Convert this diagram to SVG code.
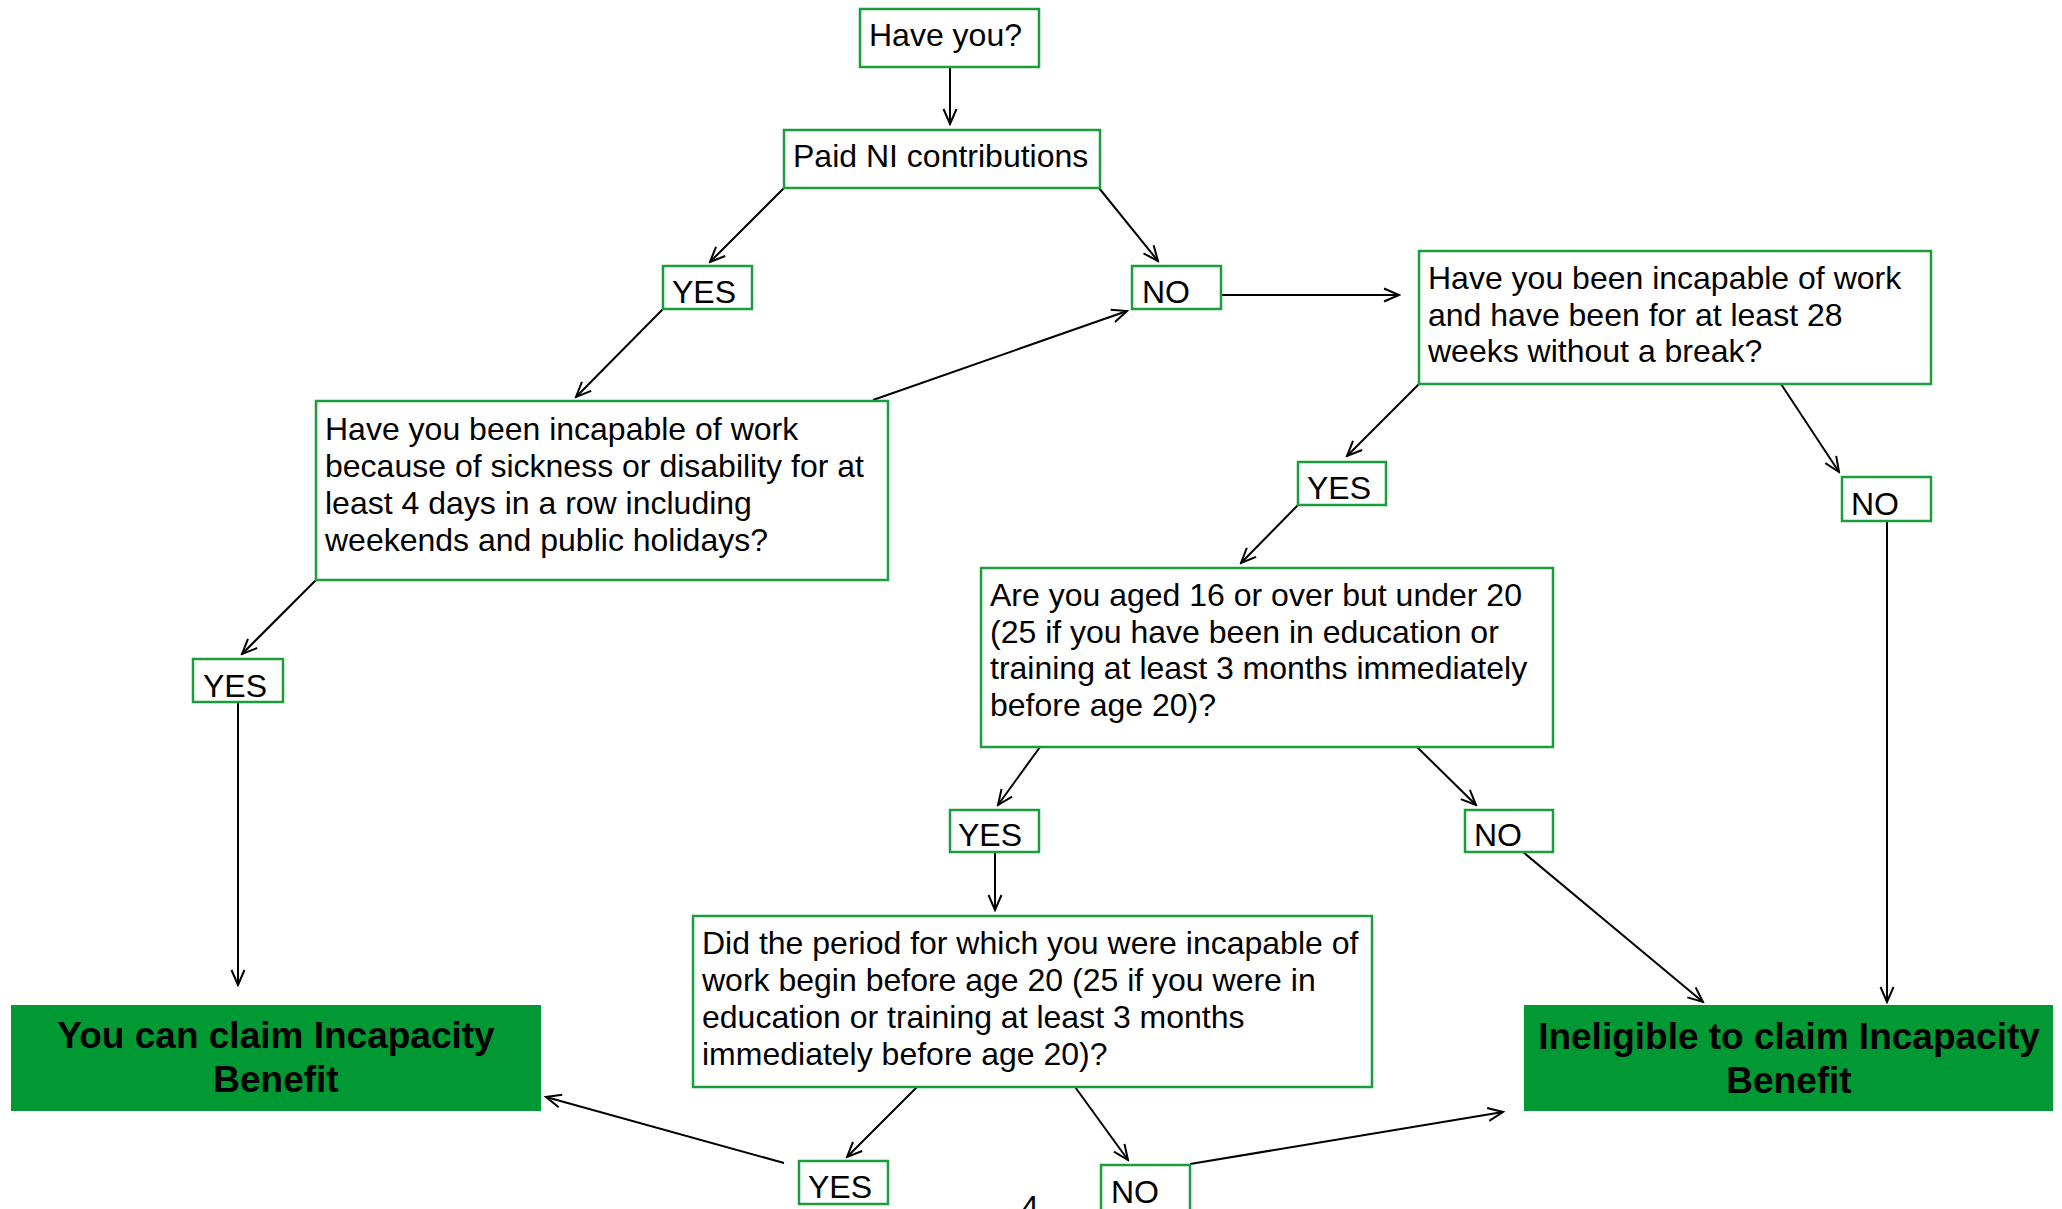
<svg xmlns="http://www.w3.org/2000/svg" width="2062" height="1209" viewBox="0 0 2062 1209">
<defs>
<marker id="arr" markerUnits="userSpaceOnUse" markerWidth="20" markerHeight="20" viewBox="0 0 20 20" refX="18" refY="10" orient="auto">
<path d="M3,3.5 L18,10 L3,16.5" fill="none" stroke="#000" stroke-width="2"/>
</marker>
</defs>
<style>
.box{fill:#fff;stroke:#1a9e3c;stroke-width:2.5}
.end{fill:#009933;stroke:none}
.t{font-family:"Liberation Sans",Arial,sans-serif;font-size:32px;fill:#000}
.b{font-family:"Liberation Sans",Arial,sans-serif;font-size:37px;font-weight:bold;fill:#000;text-anchor:middle}
.c{fill:none;stroke:#000;stroke-width:2;marker-end:url(#arr)}
.l{fill:none;stroke:#000;stroke-width:2}
</style>
<rect width="2062" height="1209" fill="#fff"/>
<g id="connectors">
<line class="c" x1="950" y1="67" x2="950" y2="124"/>
<line class="c" x1="784" y1="188" x2="710" y2="262"/>
<line class="c" x1="1099" y1="188" x2="1158" y2="261"/>
<line class="c" x1="1221" y1="295" x2="1399" y2="295"/>
<line class="c" x1="663" y1="309" x2="576" y2="397"/>
<line class="c" x1="873" y1="400" x2="1127" y2="311"/>
<line class="c" x1="316" y1="580" x2="242" y2="654"/>
<line class="c" x1="238" y1="702" x2="238" y2="985"/>
<line class="c" x1="1419" y1="384" x2="1347" y2="456"/>
<line class="c" x1="1781" y1="384" x2="1839" y2="472"/>
<line class="c" x1="1887" y1="521" x2="1887" y2="1002"/>
<line class="c" x1="1298" y1="505" x2="1241" y2="563"/>
<line class="c" x1="1040" y1="747" x2="998" y2="805"/>
<line class="c" x1="1417" y1="747" x2="1476" y2="805"/>
<line class="c" x1="995" y1="852" x2="995" y2="910"/>
<line class="c" x1="1523" y1="852" x2="1703" y2="1002"/>
<line class="c" x1="919" y1="1085" x2="847" y2="1157"/>
<line class="c" x1="1070" y1="1080" x2="1128" y2="1160"/>
<line class="c" x1="784" y1="1163" x2="546" y2="1097"/>
<line class="c" x1="1190" y1="1164" x2="1503" y2="1112"/>
</g>
<g id="n-have-you">
<rect class="box" x="860" y="9" width="179" height="58"/>
<text class="t" x="869" y="46">Have you?</text>
</g>
<g id="n-paid-ni">
<rect class="box" x="784" y="130" width="316" height="58"/>
<text class="t" x="793" y="167">Paid NI contributions</text>
</g>
<g id="n-yes-1">
<rect class="box" x="663" y="266" width="89" height="43"/>
<text class="t" x="672" y="303">YES</text>
</g>
<g id="n-no-1">
<rect class="box" x="1132" y="266" width="89" height="43"/>
<text class="t" x="1142" y="303">NO</text>
</g>
<g id="n-q-4days">
<rect class="box" x="316" y="401" width="572" height="179"/>
<text class="t" x="325" y="440">Have you been incapable of work</text>
<text class="t" x="325" y="477">because of sickness or disability for at</text>
<text class="t" x="325" y="514">least 4 days in a row including</text>
<text class="t" x="325" y="551">weekends and public holidays?</text>
</g>
<g id="n-q-28weeks">
<rect class="box" x="1419" y="251" width="512" height="133"/>
<text class="t" x="1428" y="289">Have you been incapable of work</text>
<text class="t" x="1428" y="326">and have been for at least 28</text>
<text class="t" x="1428" y="362">weeks without a break?</text>
</g>
<g id="n-yes-2">
<rect class="box" x="1298" y="462" width="88" height="43"/>
<text class="t" x="1307" y="499">YES</text>
</g>
<g id="n-no-2">
<rect class="box" x="1842" y="477" width="89" height="44"/>
<text class="t" x="1851" y="515">NO</text>
</g>
<g id="n-yes-3">
<rect class="box" x="193" y="659" width="90" height="43"/>
<text class="t" x="203" y="697">YES</text>
</g>
<g id="n-q-age">
<rect class="box" x="981" y="568" width="572" height="179"/>
<text class="t" x="990" y="606">Are you aged 16 or over but under 20</text>
<text class="t" x="990" y="643">(25 if you have been in education or</text>
<text class="t" x="990" y="679">training at least 3 months immediately</text>
<text class="t" x="990" y="716">before age 20)?</text>
</g>
<g id="n-yes-4">
<rect class="box" x="950" y="810" width="89" height="42"/>
<text class="t" x="958" y="846">YES</text>
</g>
<g id="n-no-4">
<rect class="box" x="1465" y="810" width="88" height="42"/>
<text class="t" x="1474" y="846">NO</text>
</g>
<g id="n-q-period">
<rect class="box" x="693" y="916" width="679" height="171"/>
<text class="t" x="702" y="954">Did the period for which you were incapable of</text>
<text class="t" x="702" y="991">work begin before age 20 (25 if you were in</text>
<text class="t" x="702" y="1028">education or training at least 3 months</text>
<text class="t" x="702" y="1065">immediately before age 20)?</text>
</g>
<g id="n-yes-5">
<rect class="box" x="799" y="1161" width="89" height="43"/>
<text class="t" x="808" y="1198">YES</text>
</g>
<g id="n-no-5">
<rect class="box" x="1101" y="1165" width="89" height="46"/>
<text class="t" x="1111" y="1203">NO</text>
</g>
<g id="n-can-claim">
<rect class="end" x="11" y="1005" width="530" height="106"/>
<text class="b" x="276" y="1048">You can claim Incapacity</text>
<text class="b" x="276" y="1092">Benefit</text>
</g>
<g id="n-ineligible">
<rect class="end" x="1524" y="1005" width="529" height="106"/>
<text class="b" x="1789" y="1049">Ineligible to claim Incapacity</text>
<text class="b" x="1789" y="1093">Benefit</text>
</g>
<text class="t" x="1021" y="1218">4</text>
</svg>
